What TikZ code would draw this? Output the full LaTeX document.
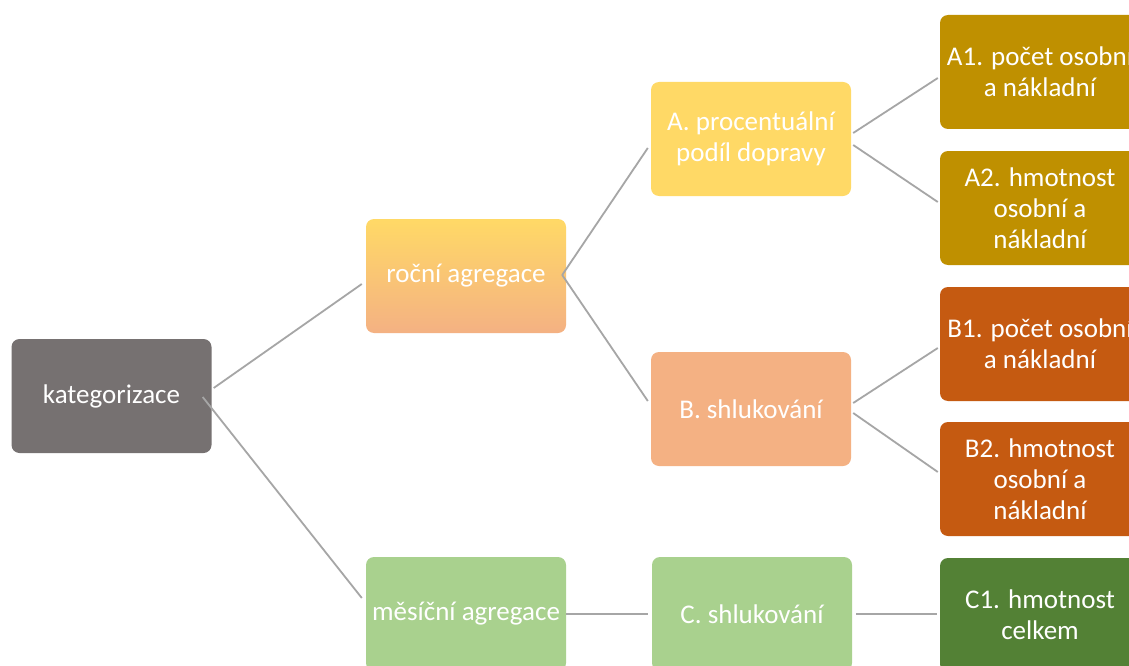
\documentclass[tikz,border=0pt]{standalone}
\usepackage{fontspec}
\setmainfont{Carlito}
\definecolor{katc}{HTML}{767171}
\definecolor{yelc}{HTML}{FFD966}
\definecolor{orac}{HTML}{F4B183}
\definecolor{grnc}{HTML}{A9D18E}
\definecolor{goldc}{HTML}{BF9000}
\definecolor{rustc}{HTML}{C55A11}
\definecolor{dgrnc}{HTML}{538135}
\definecolor{linec}{HTML}{A6A6A6}
\tikzset{
  box/.style={rectangle, rounded corners=8pt, minimum width=200pt, minimum height=114pt,
    inner sep=0pt, align=center, text=white, font=\fontsize{27}{31}\selectfont},
  conn/.style={draw=linec, line width=1.8pt}
}
\begin{document}
\begin{tikzpicture}[x=1pt,y=-1pt]
\clip (0,0) rectangle (1129,666);
\fill[white] (0,0) rectangle (1129,666);
\node[box, fill=katc] (kat) at (111.5,396) {kategorizace};
\node[box, top color=yelc, bottom color=orac] (roc) at (466,276) {roční agregace};
\node[box, fill=yelc] (A) at (751,139) {A. procentuální\\podíl dopravy};
\node[box, fill=orac] (B) at (751,409) {B. shlukování};
\node[box, fill=grnc] (mes) at (466,614) {měsíční agregace};
\node[box, fill=grnc] (C) at (752,614) {C. shlukování};
\node[box, fill=goldc] (A1) at (1040,72) {A1. počet osobní\\a nákladní};
\node[box, fill=goldc] (A2) at (1040,208) {A2. hmotnost\\osobní a\\nákladní};
\node[box, fill=rustc] (B1) at (1040,344) {B1. počet osobní\\a nákladní};
\node[box, fill=rustc] (B2) at (1040,479) {B2. hmotnost\\osobní a\\nákladní};
\node[box, fill=dgrnc] (C1) at (1040,615) {C1. hmotnost\\celkem};
\draw[conn] ([shift={(2,-8)}]kat.east) -- ([shift={(-4,8)}]roc.west);
\draw[conn] ([shift={(-9,1)}]kat.east) -- ([shift={(-4,-16)}]mes.west);
\draw[conn] ([shift={(-4,-1)}]roc.east) -- ([shift={(-3,9)}]A.west);
\draw[conn] ([shift={(-4,-1)}]roc.east) -- ([shift={(-3,-8)}]B.west);
\draw[conn] ([shift={(2,-6)}]A.east) -- ([shift={(-2,6)}]A1.west);
\draw[conn] ([shift={(2,6)}]A.east) -- ([shift={(-2,-6)}]A2.west);
\draw[conn] ([shift={(2,-6)}]B.east) -- ([shift={(-2,4)}]B1.west);
\draw[conn] ([shift={(2,4)}]B.east) -- ([shift={(-2,-7)}]B2.west);
\draw[conn] (mes.east) -- ([shift={(-4,0)}]C.west);
\draw[conn] ([shift={(4,0)}]C.east) -- ([shift={(-3,-1)}]C1.west);
\end{tikzpicture}
\end{document}
